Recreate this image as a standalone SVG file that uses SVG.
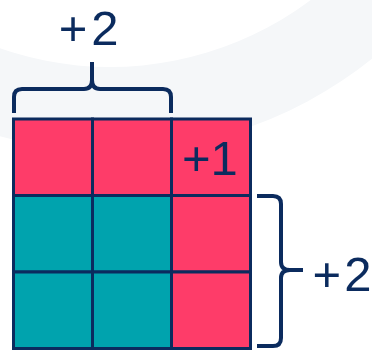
<svg xmlns="http://www.w3.org/2000/svg" width="372" height="350" viewBox="0 0 372 350">
<style>
.pink{fill:#fe3c69}
.teal{fill:#00a3ae}
.cell{stroke:#0b2b5e;stroke-width:3}
.brace{fill:none;stroke:#0b2b5e;stroke-width:4;stroke-linecap:butt;stroke-linejoin:round}
.lbl{font-family:"Liberation Sans",Arial,sans-serif;font-size:49px;fill:#0b2b5e}
</style>
<path d="M -308 -267 A 418 418 0 1 0 528 -267 A 418 418 0 1 0 -308 -267 Z M -224 -267 A 334 334 0 1 1 444 -267 A 334 334 0 1 1 -224 -267 Z" fill="#f5f7f9" fill-rule="evenodd"/>
<g id="grid">
<rect class="cell pink" x="13.5" y="119" width="79" height="76.5"/>
<rect class="cell pink" x="92.5" y="119" width="79" height="76.5"/>
<rect class="cell pink" x="171.5" y="119" width="79" height="76.5"/>
<rect class="cell teal" x="13.5" y="195.5" width="79" height="76.5"/>
<rect class="cell teal" x="92.5" y="195.5" width="79" height="76.5"/>
<rect class="cell pink" x="171.5" y="195.5" width="79" height="76.5"/>
<rect class="cell teal" x="13.5" y="272" width="79" height="76.5"/>
<rect class="cell teal" x="92.5" y="272" width="79" height="76.5"/>
<rect class="cell pink" x="171.5" y="272" width="79" height="76.5"/>
</g>
<g id="top-brace">
<path class="brace" d="M 14 113 L 14 97 Q 14 89 22 89 L 84 89 Q 92 89 92 80 L 92 62 M 92 80 Q 92 89 100 89 L 163 89 Q 171 89 171 97 L 171 113"/>
<text class="lbl" x="58.7" y="45">+<tspan dx="4">2</tspan></text>
</g>
<g id="plus1">
<text class="lbl" x="182" y="175">+1</text>
</g>
<g id="right-brace">
<path class="brace" d="M 257 196 L 273 196 Q 281 196 281 204 L 281 262 Q 281 270 290 270 L 303 270 M 290 270 Q 281 270 281 278 L 281 338 Q 281 346 273 346 L 257 346"/>
<text class="lbl" x="312.5" y="291">+<tspan dx="3">2</tspan></text>
</g>
</svg>
